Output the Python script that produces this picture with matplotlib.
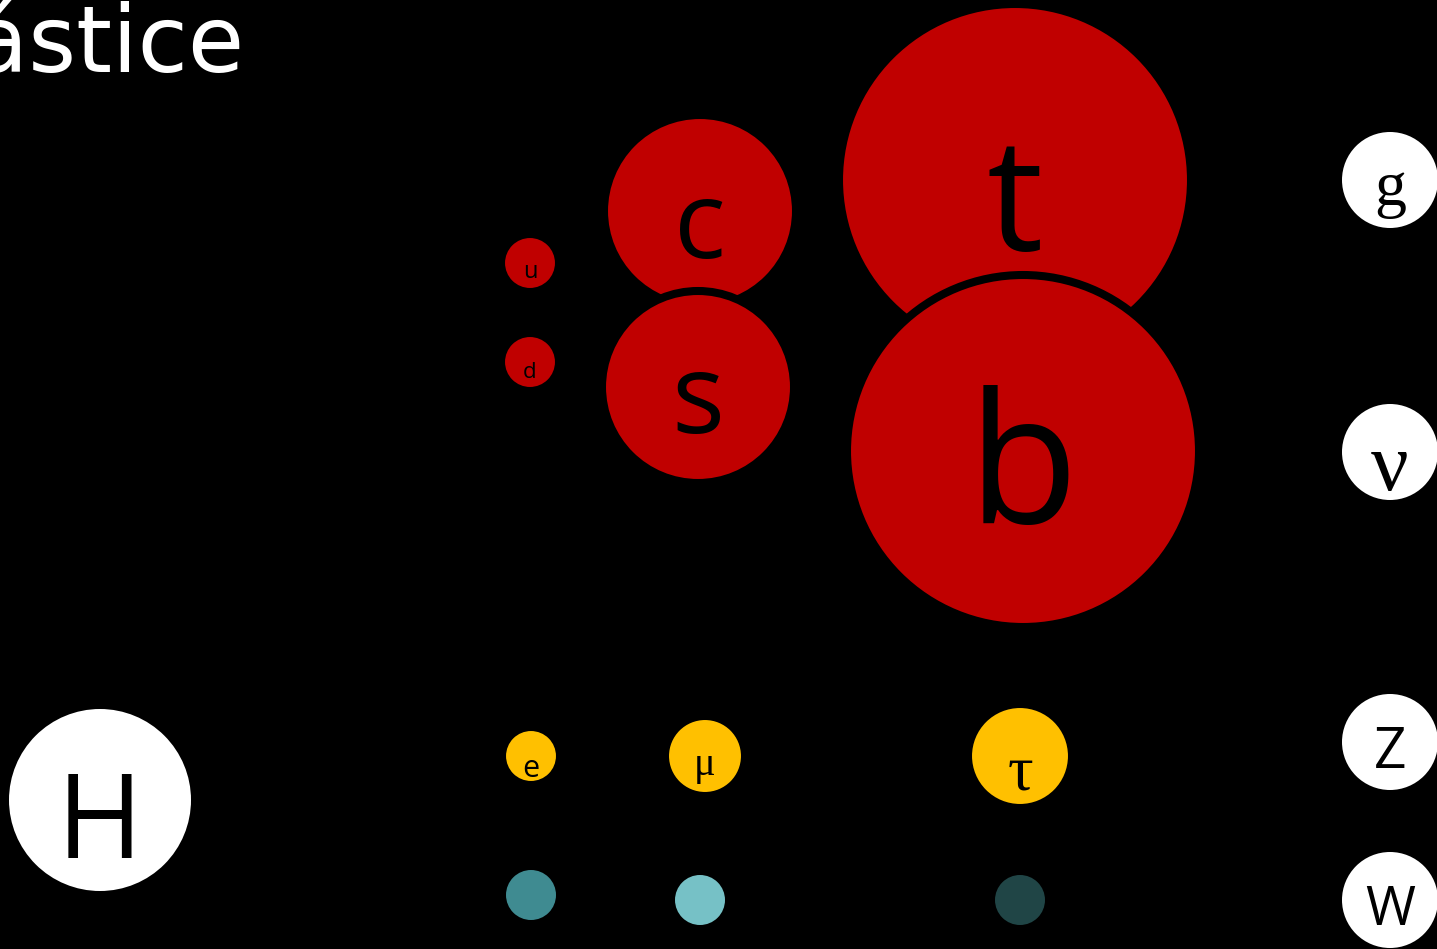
import matplotlib.pyplot as plt
from matplotlib.patches import Circle

# kvarky
quark_labels = ['u', 'd', 'c', 's', 't', 'b']
quark_x = [530, 530, 700, 698, 1015, 1023]
quark_y = [263, 362, 211, 387, 180, 451]
quark_r = [25, 25, 92, 92, 172, 172]

# leptony
lepton_labels = ['e', 'μ', 'τ']
lepton_x = [531, 705, 1020]
lepton_y = [756, 756, 756]
lepton_r = [25, 36, 48]

# neutrina
neutrino_x = [531, 700, 1020]
neutrino_y = [895, 900, 900]
neutrino_r = [25, 25, 25]
neutrino_colors = ['#3f8b91', '#76c1c6', '#204546']

# bosony
boson_labels = ['H', 'g', 'ν', 'Z', 'W']
boson_x = [100, 1390, 1390, 1390, 1390]
boson_y = [800, 180, 452, 742, 900]
boson_r = [91, 48, 48, 48, 48]

RED = '#c00000'
YELLOW = '#ffc000'

# popisky: (velikost písma, posun účaří od středu, rodina)
quark_text = [(17, 15, 'sans'), (16, 16, 'sans'), (78, 47, 'sans'),
              (80, 46, 'sans'), (114, 70, 'sans'), (130, 72, 'sans')]
lepton_text = [(22, 21, 'sans'), (29, 19, 'serif'), (46, 34, 'serif')]
boson_text = [(84, 58, 'sans'), (46, 25, 'serif'), (60, 38, 'serif'),
              (41, 26, 'sans'), (39, 25, 'sans')]
FAMILIES = {'sans': 'Open Sans', 'serif': 'Liberation Serif'}

fig = plt.figure(figsize=(14.37, 9.49), dpi=100, facecolor='black')
ax = fig.add_axes([0, 0, 1, 1])
ax.set_facecolor('black')
ax.set_xlim(0, 1437)
ax.set_ylim(949, 0)
ax.set_aspect('equal')
ax.axis('off')


def draw(xs, ys, rs, colors, labels=None, text=None, edge=True):
    for i in range(len(xs)):
        r = rs[i] + 4 if edge else rs[i]
        ax.add_patch(Circle((xs[i], ys[i]), r, facecolor=colors[i],
                            edgecolor='black', linewidth=5.8 if edge else 0))
        if labels:
            size, dy, fam = text[i]
            ax.text(xs[i], ys[i] + dy, labels[i], ha='center', va='baseline',
                    fontsize=size, color='black', family=FAMILIES[fam])


draw(quark_x, quark_y, quark_r, [RED] * len(quark_x), quark_labels, quark_text)
draw(lepton_x, lepton_y, lepton_r, [YELLOW] * len(lepton_x), lepton_labels, lepton_text)
draw(neutrino_x, neutrino_y, neutrino_r, neutrino_colors, edge=False)
draw(boson_x, boson_y, boson_r, ['white'] * len(boson_x), boson_labels, boson_text, edge=False)

# nadpis (oříznutý vlevo)
ax.text(245, 72, 'Částice', ha='right', va='baseline', fontsize=66,
        color='white', family='DejaVu Sans')

fig.savefig('out.png', dpi=100, facecolor='black')
